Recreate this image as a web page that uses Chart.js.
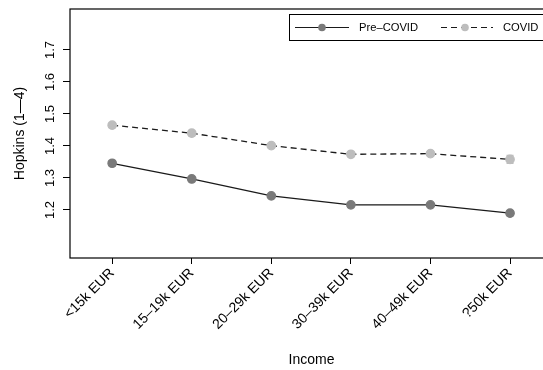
<!DOCTYPE html>
<html>
<head>
<meta charset="utf-8">
<script src="https://cdn.jsdelivr.net/npm/chart.js@4/dist/chart.umd.min.js"></script>
<style>
  html, body { margin: 0; padding: 0; background: #fff; overflow: hidden; }
  #wrap { width: 543px; height: 370px; overflow: hidden; }
</style>
</head>
<body>
<div id="wrap"><canvas id="chart" width="560" height="370"></canvas></div>
<script>
// Income categories on the x axis
const categories = ['<15k EUR', '15\u201319k EUR', '20\u201329k EUR', '30\u201339k EUR', '40\u201349k EUR', '?50k EUR'];

// Mean Hopkins score per income group
const preCovid = [1.346, 1.297, 1.244, 1.216, 1.216, 1.190];
const covid = [1.465, 1.440, 1.401, 1.374, 1.376, 1.358];

// Half-width of the error bars
const preCovidErr = [0.007, 0.006, 0.005, 0.005, 0.006, 0.007];
const covidErr = [0.007, 0.008, 0.006, 0.005, 0.008, 0.012];

// y tick labels
const yTicks = [1.2, 1.3, 1.4, 1.5, 1.6, 1.7];

const FONT = "'Liberation Sans', Arial, Helvetica, sans-serif";
const PRE_COLOR = '#7a7a7a';
const COVID_COLOR = '#bdbdbd';
const LINE_COLOR = '#1a1a1a';

// Error bars, drawn through the chart scales
const errorBars = {
    id: 'errorBars',
    afterDatasetsDraw(chart) {
        const { ctx, scales: { x, y } } = chart;
        const sets = [[preCovid, preCovidErr, PRE_COLOR], [covid, covidErr, COVID_COLOR]];
        ctx.save();
        ctx.lineWidth = 1.5;
        sets.forEach(([vals, errs, color]) => {
            ctx.strokeStyle = color;
            vals.forEach((v, i) => {
                const px = x.getPixelForValue(i);
                const top = y.getPixelForValue(v + errs[i]);
                const bot = y.getPixelForValue(v - errs[i]);
                ctx.beginPath();
                ctx.moveTo(px, top); ctx.lineTo(px, bot);
                ctx.moveTo(px - 3.5, top); ctx.lineTo(px + 3.5, top);
                ctx.moveTo(px - 3.5, bot); ctx.lineTo(px + 3.5, bot);
                ctx.stroke();
            });
        });
        ctx.restore();
    }
};

// Plot frame, rotated y tick labels and the legend box
const frameAndLegend = {
    id: 'frameAndLegend',
    afterDraw(chart) {
        const { ctx, chartArea: a, scales: { y } } = chart;
        ctx.save();
        ctx.strokeStyle = '#000';
        ctx.lineWidth = 1.2;
        ctx.strokeRect(a.left, a.top, a.right - a.left, a.bottom - a.top);

        // y tick labels, vertical
        ctx.fillStyle = '#000';
        ctx.font = '13px ' + FONT;
        ctx.textAlign = 'center';
        ctx.textBaseline = 'middle';
        yTicks.forEach(t => {
            const py = y.getPixelForValue(t);
            ctx.save();
            ctx.translate(a.left - 20, py);
            ctx.rotate(-Math.PI / 2);
            ctx.fillText(t.toFixed(1), 0, 0);
            ctx.restore();
        });

        // legend
        const lx = 289, ly = 14, lh = 26;
        ctx.lineWidth = 1;
        ctx.strokeRect(lx + 0.5, ly + 0.5, 300, lh);
        const my = ly + lh / 2 + 0.5;
        ctx.strokeStyle = LINE_COLOR;
        ctx.lineWidth = 1.2;
        ctx.beginPath(); ctx.moveTo(295, my); ctx.lineTo(349, my); ctx.stroke();
        ctx.fillStyle = PRE_COLOR;
        ctx.beginPath(); ctx.arc(322, my, 3.8, 0, Math.PI * 2); ctx.fill();
        ctx.setLineDash([6, 4]);
        ctx.beginPath(); ctx.moveTo(441, my); ctx.lineTo(493, my); ctx.stroke();
        ctx.setLineDash([]);
        ctx.fillStyle = COVID_COLOR;
        ctx.beginPath(); ctx.arc(465, my, 3.8, 0, Math.PI * 2); ctx.fill();
        ctx.fillStyle = '#000';
        ctx.font = '11.2px ' + FONT;
        ctx.textAlign = 'left';
        ctx.fillText('Pre\u2013COVID', 359, my);
        ctx.fillText('COVID', 503, my);
        ctx.restore();
    }
};

const ctx = document.getElementById('chart').getContext('2d');
new Chart(ctx, {
    type: 'line',
    data: {
        datasets: [
            {
                label: 'Pre\u2013COVID',
                data: preCovid.map((v, i) => ({ x: i, y: v })),
                borderColor: LINE_COLOR,
                borderWidth: 1.3,
                pointBackgroundColor: PRE_COLOR,
                pointBorderColor: PRE_COLOR,
                pointRadius: 4.2,
                tension: 0
            },
            {
                label: 'COVID',
                data: covid.map((v, i) => ({ x: i, y: v })),
                borderColor: LINE_COLOR,
                borderWidth: 1.3,
                borderDash: [6, 4],
                pointBackgroundColor: COVID_COLOR,
                pointBorderColor: COVID_COLOR,
                pointRadius: 4.2,
                tension: 0
            }
        ]
    },
    options: {
        responsive: false,
        animation: false,
        layout: { padding: { top: 9, right: 7, left: 0, bottom: 0 } },
        plugins: {
            legend: { display: false },
            tooltip: { enabled: false }
        },
        scales: {
            x: {
                type: 'linear',
                min: -0.53,
                max: 5.54,
                afterBuildTicks: s => { s.ticks = categories.map((_, i) => ({ value: i })); },
                afterFit: s => { s.height = 112; },
                grid: { display: true, drawOnChartArea: false, drawTicks: true, tickLength: 6, color: '#000' },
                border: { display: false },
                ticks: {
                    autoSkip: false,
                    maxRotation: 45,
                    minRotation: 45,
                    padding: 1,
                    color: '#000',
                    font: { family: FONT, size: 14 },
                    callback: v => categories[v]
                },
                title: {
                    display: true,
                    text: 'Income',
                    color: '#000',
                    font: { family: FONT, size: 14 },
                    padding: { top: 0, bottom: 1 }
                }
            },
            y: {
                min: 1.05,
                max: 1.828,
                afterBuildTicks: s => { s.ticks = yTicks.map(v => ({ value: v })); },
                afterFit: s => { s.width = 70; },
                grid: { display: true, drawOnChartArea: false, drawTicks: true, tickLength: 7, color: '#000' },
                border: { display: false },
                ticks: { display: false },
                title: {
                    display: true,
                    text: 'Hopkins (1\u20144)',
                    color: '#000',
                    font: { family: FONT, size: 14 },
                    padding: { top: 12, bottom: 0 }
                }
            }
        }
    },
    plugins: [errorBars, frameAndLegend]
});
</script>
</body>
</html>
